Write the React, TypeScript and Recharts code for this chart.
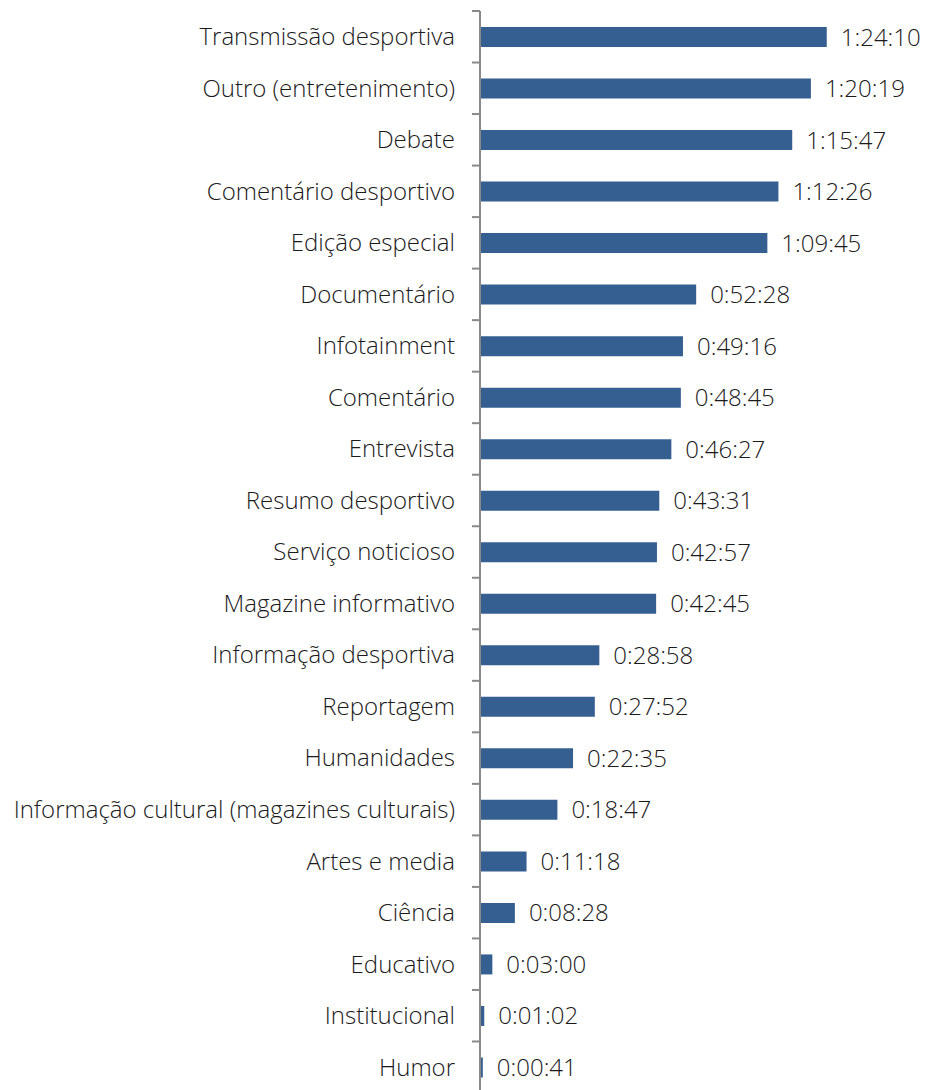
import React from 'react';
import { BarChart, Bar, XAxis, YAxis, LabelList } from 'recharts';

// categories, top to bottom
const categories: string[] = [
  'Transmissão desportiva',
  'Outro (entretenimento)',
  'Debate',
  'Comentário desportivo',
  'Edição especial',
  'Documentário',
  'Infotainment',
  'Comentário',
  'Entrevista',
  'Resumo desportivo',
  'Serviço noticioso',
  'Magazine informativo',
  'Informação desportiva',
  'Reportagem',
  'Humanidades',
  'Informação cultural (magazines culturais)',
  'Artes e media',
  'Ciência',
  'Educativo',
  'Institucional',
  'Humor',
];

// average duration, as printed on the bars (h:mm:ss)
const durations: string[] = [
  '1:24:10', '1:20:19', '1:15:47', '1:12:26', '1:09:45', '0:52:28', '0:49:16',
  '0:48:45', '0:46:27', '0:43:31', '0:42:57', '0:42:45', '0:28:58', '0:27:52',
  '0:22:35', '0:18:47', '0:11:18', '0:08:28', '0:03:00', '0:01:02', '0:00:41',
];

const toSeconds = (s: string) => {
  const [h, m, sec] = s.split(':').map(Number);
  return h * 3600 + m * 60 + sec;
};

const toHms = (v: number) => {
  const h = Math.floor(v / 3600);
  const m = Math.floor((v % 3600) / 60);
  const s = v % 60;
  return `${h}:${String(m).padStart(2, '0')}:${String(s).padStart(2, '0')}`;
};

const data = categories.map((name, i) => ({ name, seconds: toSeconds(durations[i]) }));

const WIDTH = 921;
const HEIGHT = 1090;
const MARGIN = { top: 3, right: 37, bottom: 5, left: 0 };
const AXIS_W = 472;
const BAND = (HEIGHT - MARGIN.top - MARGIN.bottom) / categories.length;
const FONT = '"Open Sans", "Liberation Sans", sans-serif';
const AXIS_COLOR = '#898989';

// category label plus a tick mark on the boundary above it
const CategoryTick = (props: any) => {
  const { x, y, payload, index } = props;
  const lineX = MARGIN.left + AXIS_W;
  return (
    <g>
      <line x1={lineX - 8} x2={lineX} y1={y - BAND / 2} y2={y - BAND / 2} stroke={AXIS_COLOR} strokeWidth={2} />
      {index === categories.length - 1 && (
        <line x1={lineX - 8} x2={lineX} y1={y + BAND / 2} y2={y + BAND / 2} stroke={AXIS_COLOR} strokeWidth={2} />
      )}
      <text x={x} y={y} dy="0.35em" textAnchor="end" fill="#1a1a1a" fontSize={24} fontWeight={300} fontFamily={FONT}>
        {payload.value}
      </text>
    </g>
  );
};

export default function App() {
  return (
    <div style={{ width: WIDTH, height: HEIGHT }}>
      <BarChart width={WIDTH} height={HEIGHT} data={data} layout="vertical" margin={MARGIN}>
        <XAxis type="number" domain={[0, 6000]} hide />
        <YAxis
          type="category"
          dataKey="name"
          width={AXIS_W}
          axisLine={{ stroke: AXIS_COLOR, strokeWidth: 2 }}
          tickLine={false}
          tickSize={0}
          tickMargin={25}
          interval={0}
          tick={<CategoryTick />}
        />
        <Bar dataKey="seconds" fill="#365F91" barSize={20} isAnimationActive={false}>
          <LabelList
            dataKey="seconds"
            position="right"
            offset={14}
            formatter={(v: any) => toHms(Number(v))}
            fill="#1a1a1a"
            fontSize={24}
            fontWeight={300}
            fontFamily={FONT}
          />
        </Bar>
      </BarChart>
    </div>
  );
}
